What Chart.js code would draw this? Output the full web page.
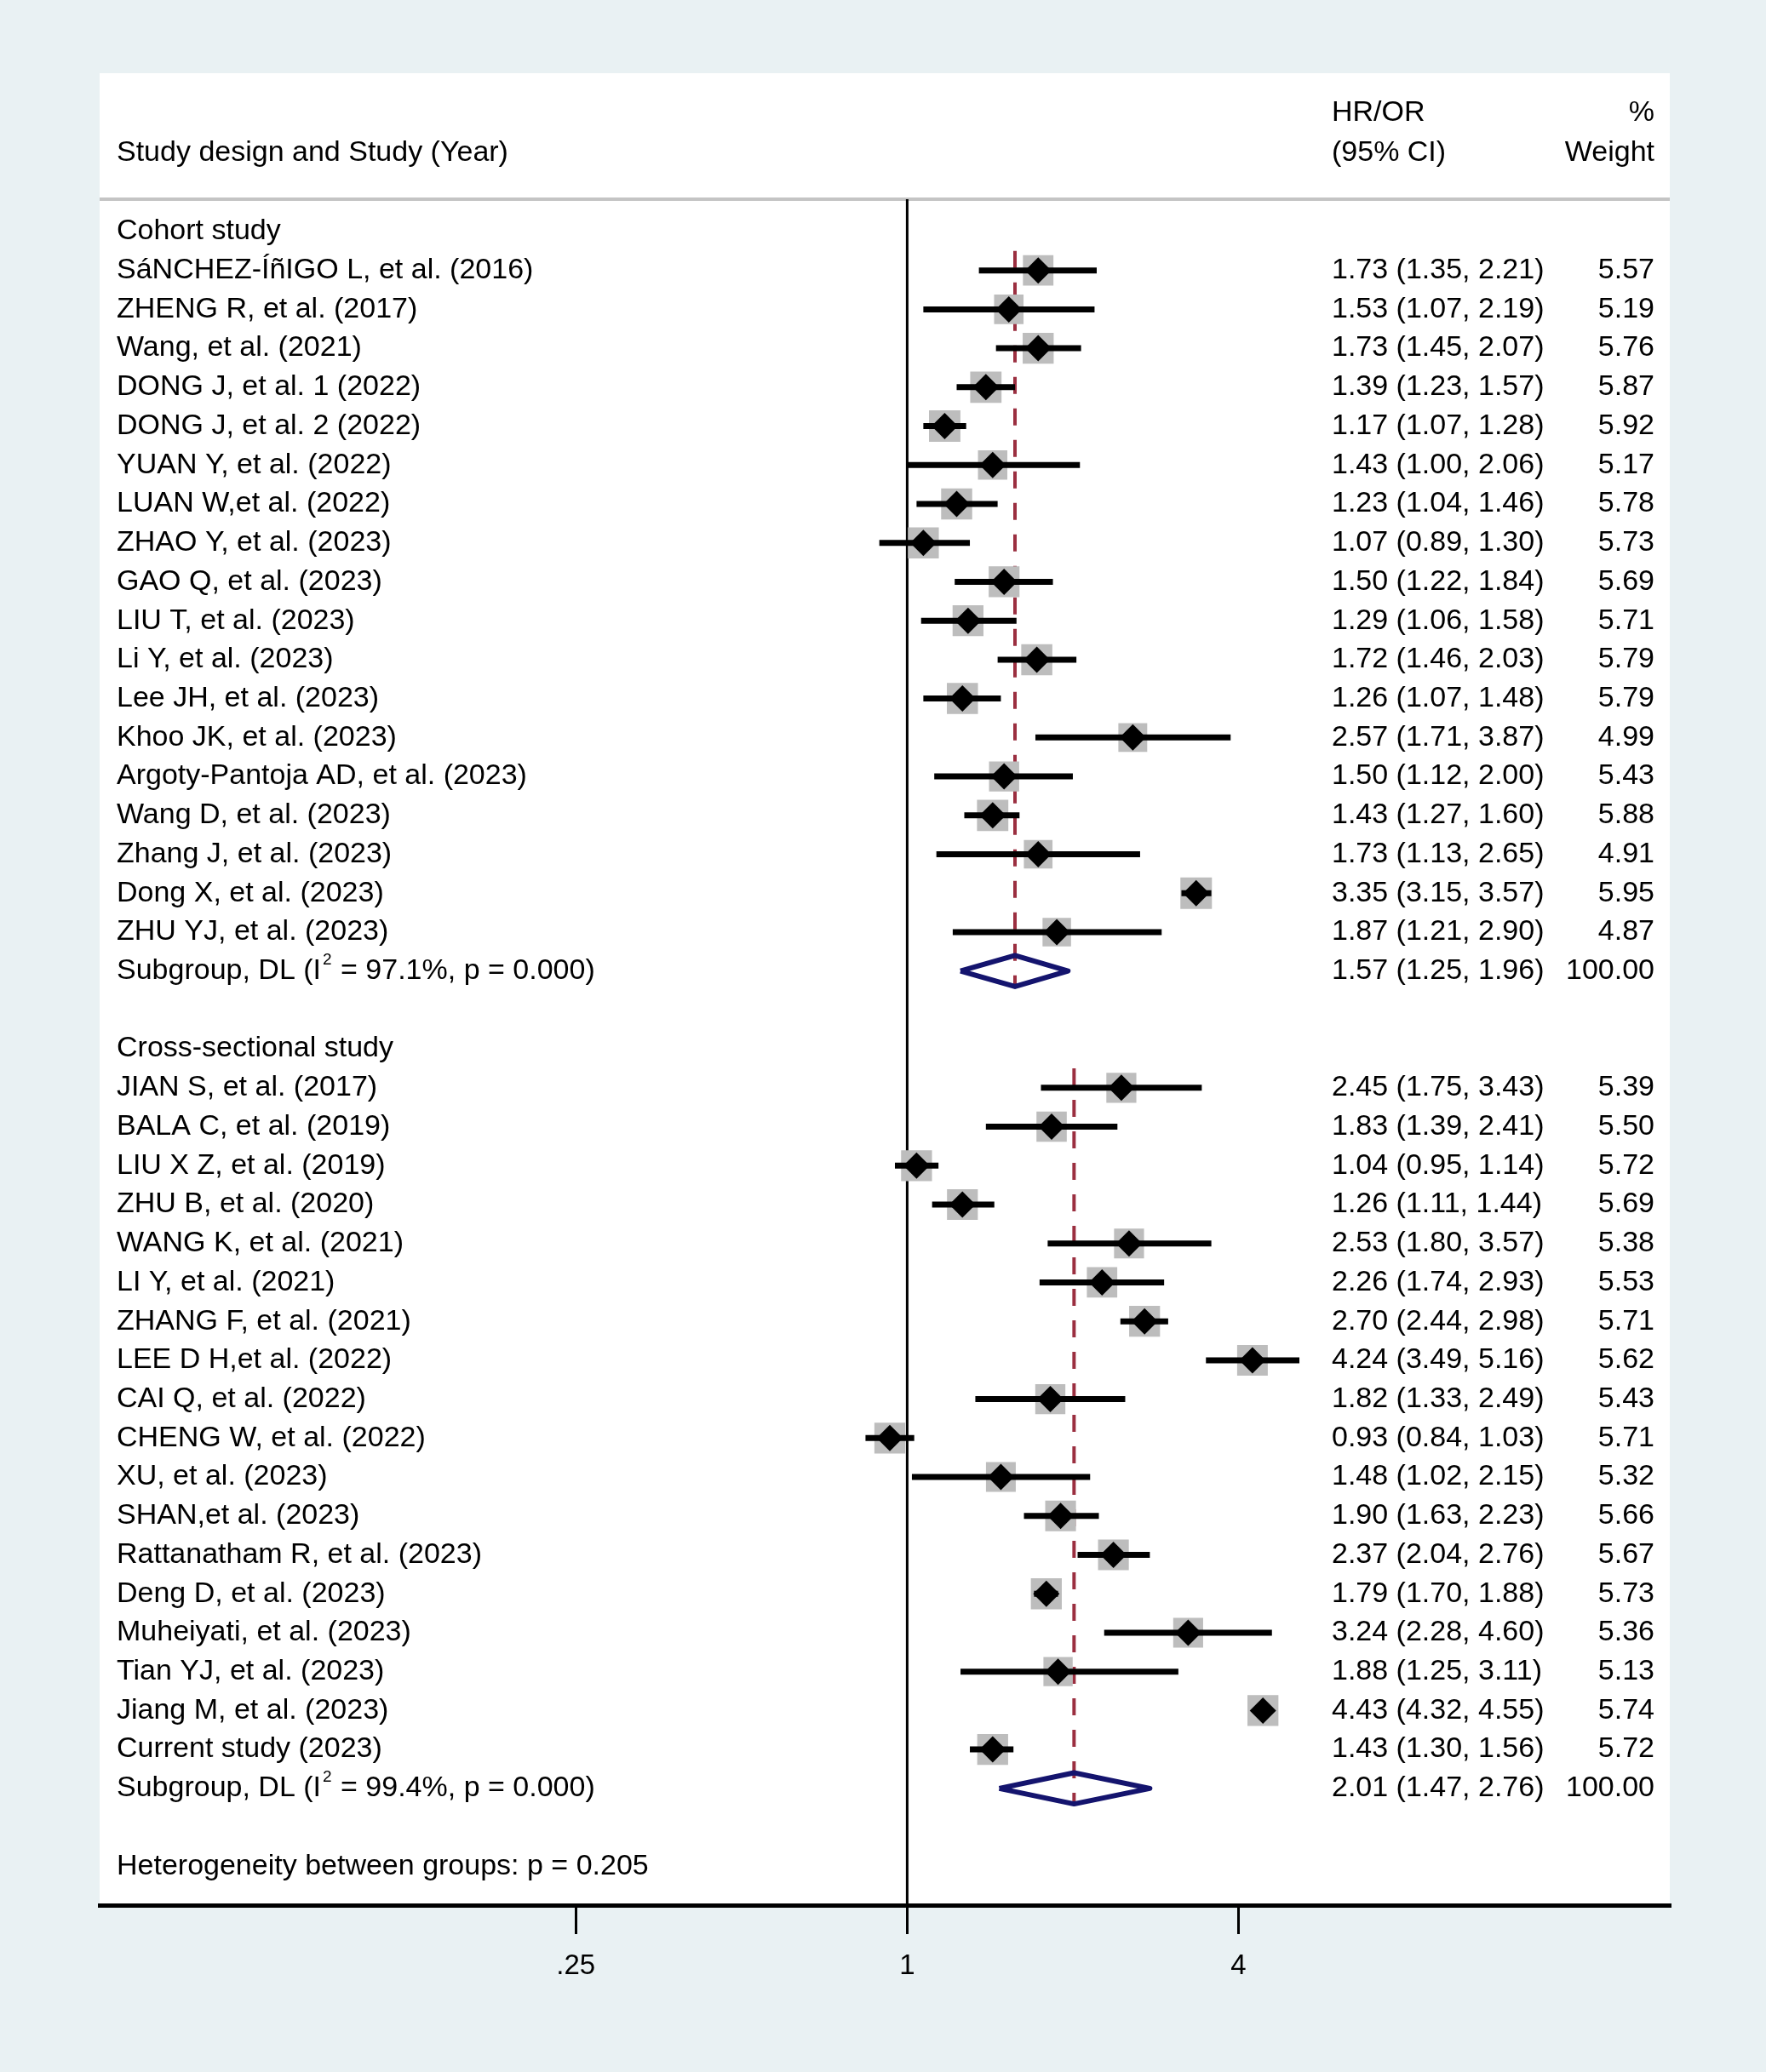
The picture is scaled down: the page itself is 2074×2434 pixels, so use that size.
<!DOCTYPE html>
<html>
<head>
<meta charset="utf-8">
<script src="https://cdn.jsdelivr.net/npm/chart.js@4.4.1/dist/chart.umd.min.js"></script>
<style>
  body { margin: 0; background: #e9f1f3; }
  #forest { display: block; }
</style>
</head>
<body>
<canvas id="forest" width="2074" height="2434"></canvas>
<script>
// rows: 0 header cohort, 1-18 cohort studies, 19 subgroup, 21 header cross, 22-39 studies, 40 subgroup, 42 heterogeneity
var cohortStudies = [
  'SáNCHEZ-ÍñIGO L, et al. (2016)', 'ZHENG R, et al. (2017)', 'Wang, et al. (2021)',
  'DONG J, et al. 1 (2022)', 'DONG J, et al. 2 (2022)', 'YUAN Y, et al. (2022)',
  'LUAN W,et al. (2022)', 'ZHAO Y, et al. (2023)', 'GAO Q, et al. (2023)',
  'LIU T, et al. (2023)', 'Li Y, et al. (2023)', 'Lee JH, et al. (2023)',
  'Khoo JK, et al. (2023)', 'Argoty-Pantoja AD, et al. (2023)', 'Wang D, et al. (2023)',
  'Zhang J, et al. (2023)', 'Dong X, et al. (2023)', 'ZHU YJ, et al. (2023)'
]
var cohortEst = [1.73, 1.53, 1.73, 1.39, 1.17, 1.43, 1.23, 1.07, 1.50, 1.29, 1.72, 1.26, 2.57, 1.50, 1.43, 1.73, 3.35, 1.87]
var cohortLo  = [1.35, 1.07, 1.45, 1.23, 1.07, 1.00, 1.04, 0.89, 1.22, 1.06, 1.46, 1.07, 1.71, 1.12, 1.27, 1.13, 3.15, 1.21]
var cohortHi  = [2.21, 2.19, 2.07, 1.57, 1.28, 2.06, 1.46, 1.30, 1.84, 1.58, 2.03, 1.48, 3.87, 2.00, 1.60, 2.65, 3.57, 2.90]
var cohortWeight = [5.57, 5.19, 5.76, 5.87, 5.92, 5.17, 5.78, 5.73, 5.69, 5.71, 5.79, 5.79, 4.99, 5.43, 5.88, 4.91, 5.95, 4.87]
var cohortPooled = [1.57, 1.25, 1.96]
var cohortI2 = '97.1%'

var crossStudies = [
  'JIAN S, et al. (2017)', 'BALA C, et al. (2019)', 'LIU X Z, et al. (2019)',
  'ZHU B, et al. (2020)', 'WANG K, et al. (2021)', 'LI Y, et al. (2021)',
  'ZHANG F, et al. (2021)', 'LEE D H,et al. (2022)', 'CAI Q, et al. (2022)',
  'CHENG W, et al. (2022)', 'XU, et al. (2023)', 'SHAN,et al. (2023)',
  'Rattanatham R, et al. (2023)', 'Deng D, et al. (2023)', 'Muheiyati, et al. (2023)',
  'Tian YJ, et al. (2023)', 'Jiang M, et al. (2023)', 'Current study (2023)'
]
var crossEst = [2.45, 1.83, 1.04, 1.26, 2.53, 2.26, 2.70, 4.24, 1.82, 0.93, 1.48, 1.90, 2.37, 1.79, 3.24, 1.88, 4.43, 1.43]
var crossLo  = [1.75, 1.39, 0.95, 1.11, 1.80, 1.74, 2.44, 3.49, 1.33, 0.84, 1.02, 1.63, 2.04, 1.70, 2.28, 1.25, 4.32, 1.30]
var crossHi  = [3.43, 2.41, 1.14, 1.44, 3.57, 2.93, 2.98, 5.16, 2.49, 1.03, 2.15, 2.23, 2.76, 1.88, 4.60, 3.11, 4.55, 1.56]
var crossWeight = [5.39, 5.50, 5.72, 5.69, 5.38, 5.53, 5.71, 5.62, 5.43, 5.71, 5.32, 5.66, 5.67, 5.73, 5.36, 5.13, 5.74, 5.72]
var crossPooled = [2.01, 1.47, 2.76]
var crossI2 = '99.4%'

var xTicks = [0.25, 1, 4]
var xTickLabels = ['.25', '1', '4']

var FONT = '"Liberation Sans", Arial, sans-serif'
var FS = 34
var cohortStart = 1
var crossStart = 22

function fmt(v) { return v.toFixed(2) }

var boxes = [], points = [], ciSets = [], textRows = []

function addGroup(title, names, est, lo, hi, w, pooled, i2, start) {
  textRows.push({ row: start - 1, label: title })
  names.forEach(function (name, i) {
    var r = start + i
    boxes.push({ x: est[i], y: r, w: w[i] })
    points.push({ x: est[i], y: r })
    ciSets.push([{ x: lo[i], y: r }, { x: hi[i], y: r }])
    textRows.push({ row: r, label: name, ci: fmt(est[i]) + ' (' + fmt(lo[i]) + ', ' + fmt(hi[i]) + ')', wt: fmt(w[i]) })
  })
  var sr = start + names.length
  textRows.push({ row: sr, label: 'Subgroup, DL (I', sup: '2', rest: ' = ' + i2 + ', p = 0.000)',
    ci: fmt(pooled[0]) + ' (' + fmt(pooled[1]) + ', ' + fmt(pooled[2]) + ')', wt: '100.00' })
  return sr
}

var cohortSub = addGroup('Cohort study', cohortStudies, cohortEst, cohortLo, cohortHi, cohortWeight, cohortPooled, cohortI2, cohortStart)
var crossSub = addGroup('Cross-sectional study', crossStudies, crossEst, crossLo, crossHi, crossWeight, crossPooled, crossI2, crossStart)
textRows.push({ row: 42, label: 'Heterogeneity between groups: p = 0.205' })

function diamond(p, r) {
  return [{ x: p[1], y: r }, { x: p[0], y: r - 0.4 }, { x: p[2], y: r }, { x: p[0], y: r + 0.4 }, { x: p[1], y: r }]
}

var datasets = []
datasets.push({ type: 'scatter', data: points, order: 0, pointStyle: 'rectRot', pointRadius: 15.5,
  backgroundColor: '#000', borderWidth: 0, pointHoverRadius: 15.5 })
ciSets.forEach(function (seg) {
  datasets.push({ type: 'line', data: seg, order: 1, borderColor: '#000', borderWidth: 7,
    pointRadius: 0, borderCapStyle: 'butt', fill: false })
})
datasets.push({ type: 'scatter', data: boxes, order: 2, pointStyle: 'rect',
  pointRadius: function (c) { return c.raw ? 10.73 * Math.sqrt(c.raw.w) : 0 },
  backgroundColor: '#bdbdbd', borderWidth: 0 })
datasets.push({ type: 'line', data: diamond(cohortPooled, cohortSub), order: 3, borderColor: '#14146e',
  borderWidth: 6, pointRadius: 0, borderJoinStyle: 'round', fill: false, tension: 0 })
datasets.push({ type: 'line', data: diamond(crossPooled, crossSub), order: 3, borderColor: '#14146e',
  borderWidth: 6, pointRadius: 0, borderJoinStyle: 'round', fill: false, tension: 0 })
datasets.push({ type: 'line', data: [{ x: cohortPooled[0], y: cohortStart - 0.5 }, { x: cohortPooled[0], y: cohortSub + 0.4 }],
  order: 4, borderColor: '#9b2f40', borderWidth: 4, borderDash: [20, 17], pointRadius: 0, borderCapStyle: 'butt' })
datasets.push({ type: 'line', data: [{ x: crossPooled[0], y: crossStart - 0.5 }, { x: crossPooled[0], y: crossSub + 0.4 }],
  order: 4, borderColor: '#9b2f40', borderWidth: 4, borderDash: [20, 17], pointRadius: 0, borderCapStyle: 'butt' })
datasets.push({ type: 'line', data: [{ x: 1, y: -0.83 }, { x: 1, y: 43 }], order: 5, borderColor: '#000',
  borderWidth: 3, pointRadius: 0, borderCapStyle: 'butt' })

var panelPlugin = {
  id: 'panel',
  beforeDraw: function (chart) {
    var c = chart.ctx, a = chart.chartArea
    c.save()
    c.fillStyle = '#e9f1f3'
    c.fillRect(0, 0, chart.width, chart.height)
    c.fillStyle = '#ffffff'
    c.fillRect(a.left, 86, a.right - a.left, a.bottom - 86)
    c.fillStyle = '#c4c4c4'
    c.fillRect(a.left, a.top - 2, a.right - a.left, 4)
    c.restore()
  },
  afterDraw: function (chart) {
    var c = chart.ctx, ys = chart.scales.y
    c.save()
    c.fillStyle = '#000'
    c.textBaseline = 'middle'
    c.font = FS + 'px ' + FONT
    c.textAlign = 'left'
    c.fillText('Study design and Study (Year)', 137, 180)
    c.fillText('HR/OR', 1564, 133)
    c.fillText('(95% CI)', 1564, 180)
    c.textAlign = 'right'
    c.fillText('%', 1943, 133)
    c.fillText('Weight', 1943, 180)
    textRows.forEach(function (t) {
      var y = ys.getPixelForValue(t.row)
      c.textAlign = 'left'
      c.font = FS + 'px ' + FONT
      c.fillText(t.label, 137, y)
      if (t.sup) {
        var x = 137 + c.measureText(t.label).width + 2
        c.font = '19px ' + FONT
        c.fillText(t.sup, x, y - 13)
        x += c.measureText(t.sup).width + 1
        c.font = FS + 'px ' + FONT
        c.fillText(t.rest, x, y)
      }
      if (t.ci) {
        c.fillText(t.ci, 1564, y)
        c.textAlign = 'right'
        c.fillText(t.wt, 1943, y)
      }
    })
    c.restore()
  }
}

new Chart(document.getElementById('forest'), {
  type: 'scatter',
  data: { datasets: datasets },
  options: {
    responsive: false,
    animation: false,
    devicePixelRatio: 1,
    layout: { padding: { left: 117, right: 113, top: 234, bottom: 96 } },
    plugins: { legend: { display: false }, tooltip: { enabled: false } },
    scales: {
      x: {
        type: 'logarithmic',
        min: 0.0341,
        max: 24.3,
        afterBuildTicks: function (s) { s.ticks = xTicks.map(function (v) { return { value: v } }) },
        afterFit: function (s) { s.height = 100 },
        grid: { drawOnChartArea: false, drawTicks: true, tickLength: 34, lineWidth: 3, color: '#000' },
        border: { display: true, color: '#000', width: 5 },
        ticks: {
          autoSkip: false, maxRotation: 0, padding: 18, color: '#000',
          font: { family: FONT, size: 33 },
          callback: function (v) { var i = xTicks.indexOf(v); return i >= 0 ? xTickLabels[i] : '' }
        }
      },
      y: { type: 'linear', reverse: true, min: -0.83, max: 43, display: false }
    }
  },
  plugins: [panelPlugin]
})
</script>
</body>
</html>
